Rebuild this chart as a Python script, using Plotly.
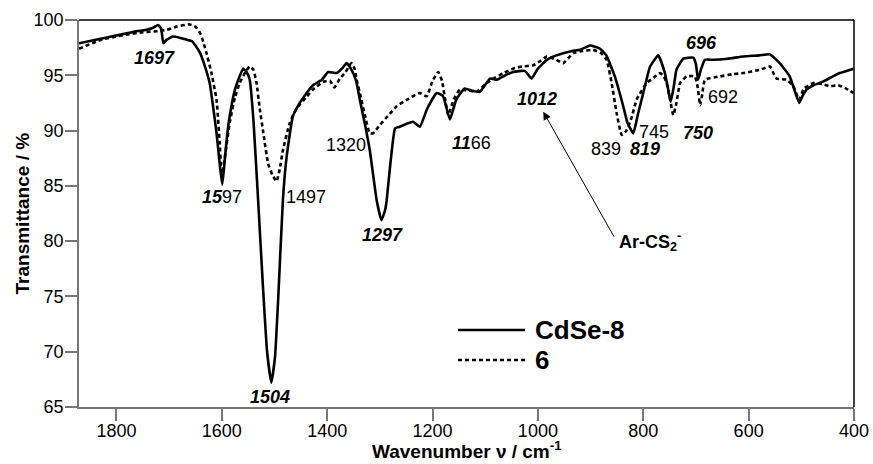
import plotly.graph_objects as go

# ---- data ----
wn_cdse8 = [1871, 1850, 1820, 1790, 1770, 1760, 1745, 1730, 1721, 1715, 1711, 1705, 1693, 1680, 1665,
            1657, 1650, 1641, 1632, 1623, 1616, 1610, 1604, 1599, 1594, 1590, 1585, 1575, 1567, 1559.5,
            1553, 1547, 1540, 1531, 1522, 1514, 1506, 1499, 1493, 1484, 1477, 1465, 1452, 1445, 1427,
            1410, 1398, 1382, 1370, 1363, 1355, 1345, 1338, 1328, 1319, 1306, 1297, 1290, 1287, 1280,
            1271, 1262, 1250, 1237, 1224, 1210, 1192, 1180, 1167, 1155, 1139, 1125, 1110, 1091, 1078,
            1062, 1047, 1025, 1012, 1000, 983, 965, 952, 935, 920, 901, 882, 870, 854, 838, 830, 819,
            810, 800, 787, 771.5, 759, 753, 748, 742, 737, 724, 705, 700, 696, 690, 683, 667, 640, 610,
            580, 560, 541, 522, 504, 497, 490, 477, 465, 452, 427, 401]
t_cdse8 = [97.9, 98.1, 98.4, 98.7, 98.9, 99.0, 99.1, 99.3, 99.55, 99.2, 97.9, 98.2, 98.5, 98.4, 98.2,
           98.1, 97.7, 97.0, 95.8, 94.3, 92.0, 89.8, 87.0, 85.1, 87.5, 89.5, 91.3, 93.7, 94.8, 95.6,
           95.3, 94.6, 91.0, 83.7, 76.0, 70.0, 67.2, 69.5, 74.7, 83.7, 87.6, 91.3, 92.5, 93.0, 94.1,
           94.6, 95.3, 95.2, 95.7, 96.1, 95.6, 94.5, 92.8, 90.5, 88.2, 83.7, 81.9, 82.8, 83.7, 87.0,
           90.2, 90.35, 90.6, 90.8, 90.35, 92.0, 93.4, 93.1, 91.0, 92.8, 93.8, 93.6, 93.5, 94.7, 94.6,
           95.0, 95.3, 95.4, 94.7, 95.6, 96.4, 96.8, 97.0, 97.2, 97.3, 97.7, 97.4, 96.8, 94.9, 92.2, 90.7, 89.75,
           91.5, 93.4, 95.8, 96.8, 95.2, 93.8, 92.6, 94.0, 95.5, 96.5, 96.6, 96.0, 94.6, 95.6, 96.4, 96.4, 96.5, 96.7,
           96.8, 96.9, 96.1, 94.9, 92.5, 93.2, 93.7, 94.1, 94.3, 94.6, 95.2, 95.6]

wn_6 = [1871, 1830, 1790, 1750, 1718, 1705, 1686, 1661, 1650, 1641, 1635, 1629, 1620, 1610, 1604,
        1600, 1593, 1585, 1575, 1566, 1555, 1547, 1540, 1534, 1528, 1521, 1512, 1504, 1496, 1490,
        1484, 1471, 1458, 1440, 1427, 1408, 1395, 1386, 1376, 1365, 1354, 1348, 1344, 1336, 1328,
        1319, 1313, 1300, 1285, 1268, 1245, 1224, 1211, 1200, 1189, 1182, 1175, 1170, 1160, 1148,
        1130, 1116, 1100, 1085, 1065, 1047, 1030, 1009, 995, 983, 965, 952, 933, 915, 895, 880,
        869.5, 860, 850.6, 841, 831.6, 822, 812.6, 793.6, 780, 768, 761, 755.6, 749, 743, 737, 730,
        717.6, 702, 697, 692, 688, 683, 654, 630, 610, 578.5, 559.5, 553, 547, 528, 515, 504.4, 495,
        477, 460, 445.6, 430, 415, 401]
t_6 = [97.4, 98.2, 98.6, 98.9, 99.0, 99.1, 99.4, 99.6, 99.4, 98.8, 98.0, 97.0, 95.3, 92.8, 89.0,
       85.8, 88.0, 90.7, 93.0, 94.3, 95.3, 95.8, 95.5, 94.3, 92.0, 89.75, 87.0, 86.0, 85.4, 86.5,
       88.2, 90.7, 92.0, 93.0, 93.7, 94.4, 94.5, 93.9, 94.7, 95.3, 96.1, 95.6, 94.6, 93.0, 91.3,
       89.75, 89.75, 90.5, 91.3, 92.2, 92.9, 93.4, 93.1, 94.5, 95.3, 94.5, 92.5, 91.4, 92.8, 93.7,
       93.6, 93.5, 94.2, 94.7, 95.2, 95.6, 95.8, 95.9, 96.3, 96.7, 96.4, 96.1, 97.0, 97.2, 97.3, 97.0,
       96.4, 94.3, 91.6, 89.6, 90.0, 91.2, 92.8, 94.3, 94.8, 95.2, 94.9, 94.3, 92.8, 91.4, 92.5, 94.3,
       94.9, 94.9, 94.0, 92.3, 93.3, 94.6, 94.9, 95.1, 95.2, 95.5, 95.8, 95.2, 94.7, 94.6, 94.0, 92.8, 93.8,
       94.3, 94.2, 94.0, 94.1, 93.8, 93.4]

x_ticks = [1800, 1600, 1400, 1200, 1000, 800, 600, 400]
y_ticks = [65, 70, 75, 80, 85, 90, 95, 100]

label_text = ["<b><i>1697</i></b>", "<b><i>15</i></b>97", "1497", "<b><i>1504</i></b>", "1320",
              "<b><i>1297</i></b>", "<b><i>11</i></b>66", "<b><i>1012</i></b>", "839", "<b><i>819</i></b>",
              "745", "<b><i>750</i></b>", "<b><i>696</i></b>", "692"]
label_wn = [1727, 1599, 1440.5, 1509, 1364.6, 1295, 1126, 1002.5, 871, 797, 779.7, 696, 689, 648.7]
label_t = [96.56, 84.0, 84.0, 65.94, 88.74, 80.56, 88.9, 92.84, 88.3, 88.3, 89.9, 89.75, 97.9, 93.0]

FONT = "Liberation Sans, Arial, Helvetica, sans-serif"

fig = go.Figure()
fig.add_trace(go.Scatter(x=wn_cdse8, y=t_cdse8, mode="lines", name="CdSe-8",
                         line=dict(color="black", width=2.6, shape="spline", smoothing=0.4),
                         showlegend=False))
fig.add_trace(go.Scatter(x=wn_6, y=t_6, mode="lines", name="6",
                         line=dict(color="black", width=2.6, dash="4px,3px", shape="spline", smoothing=0.4),
                         showlegend=False))

annotations = []
for txt, xv, yv in zip(label_text, label_wn, label_t):
    annotations.append(dict(x=xv, y=yv, xref="x", yref="y", text=txt, showarrow=False,
                            xanchor="center", yanchor="middle",
                            font=dict(family=FONT, size=18, color="black")))
# Ar-CS2- arrow
annotations.append(dict(x=989.8, y=91.7, xref="x", yref="y", ax=853.8, ay=80.26, axref="x", ayref="y",
                        text="", showarrow=True, arrowhead=2, arrowsize=1.6, arrowwidth=1, arrowcolor="black"))
annotations.append(dict(x=787, y=80.0, xref="x", yref="y", text="<b>Ar-CS<sub>2</sub><sup>-</sup></b>",
                        showarrow=False, xanchor="center", yanchor="middle",
                        font=dict(family=FONT, size=18, color="black")))
# legend text
annotations.append(dict(x=0.5858, y=0.199, xref="paper", yref="paper", text="<b>CdSe-8</b>",
                        showarrow=False, xanchor="left", yanchor="middle",
                        font=dict(family=FONT, size=26, color="black")))
annotations.append(dict(x=0.5858, y=0.1214, xref="paper", yref="paper", text="<b>6</b>",
                        showarrow=False, xanchor="left", yanchor="middle",
                        font=dict(family=FONT, size=26, color="black")))
# axis titles
annotations.append(dict(x=0.5, y=-0.111, xref="paper", yref="paper",
                        text="<b>Wavenumber ν / cm<sup>-1</sup></b>", showarrow=False,
                        xanchor="center", yanchor="middle", font=dict(family=FONT, size=19, color="black")))
annotations.append(dict(x=-0.0723, y=0.5, xref="paper", yref="paper",
                        text="<b>Transmittance / %</b>", showarrow=False, textangle=-90,
                        xanchor="center", yanchor="middle", font=dict(family=FONT, size=19, color="black")))

shapes = [
    dict(type="line", xref="paper", yref="paper", x0=0, x1=1, y0=1, y1=1, line=dict(color="black", width=1.5)),
    dict(type="line", xref="paper", yref="paper", x0=1, x1=1, y0=0, y1=1, line=dict(color="black", width=1.5)),
    dict(type="line", xref="paper", yref="paper", x0=0.489, x1=0.5755, y0=0.199, y1=0.199,
         line=dict(color="black", width=2.6)),
    dict(type="line", xref="paper", yref="paper", x0=0.489, x1=0.5755, y0=0.1214, y1=0.1214,
         line=dict(color="black", width=2.6, dash="4px,3px")),
]

fig.update_layout(
    width=873, height=464,
    margin=dict(l=79, r=19, t=20, b=57, autoexpand=False),
    paper_bgcolor="white", plot_bgcolor="white",
    font=dict(family=FONT, color="black"),
    annotations=annotations, shapes=shapes,
    xaxis=dict(range=[1871, 400], tickvals=x_ticks, ticks="outside", ticklen=12, tickwidth=1.5,
               tickcolor="#777", showline=True, linecolor="#777", linewidth=1.5, showgrid=False,
               zeroline=False, tickfont=dict(size=18, family=FONT), automargin=False,
               ticklabelstandoff=-5),
    yaxis=dict(range=[65, 100], tickvals=y_ticks, ticks="outside", ticklen=12, tickwidth=1.5,
               tickcolor="#777", showline=True, linecolor="#777", linewidth=1.5, showgrid=False,
               zeroline=False, tickfont=dict(size=18, family=FONT), automargin=False,
               ticklabelstandoff=-2),
)

fig.write_html("out.html", config={"displayModeBar": False},
               post_script="document.body.style.margin='0';document.body.style.overflow='hidden';")
